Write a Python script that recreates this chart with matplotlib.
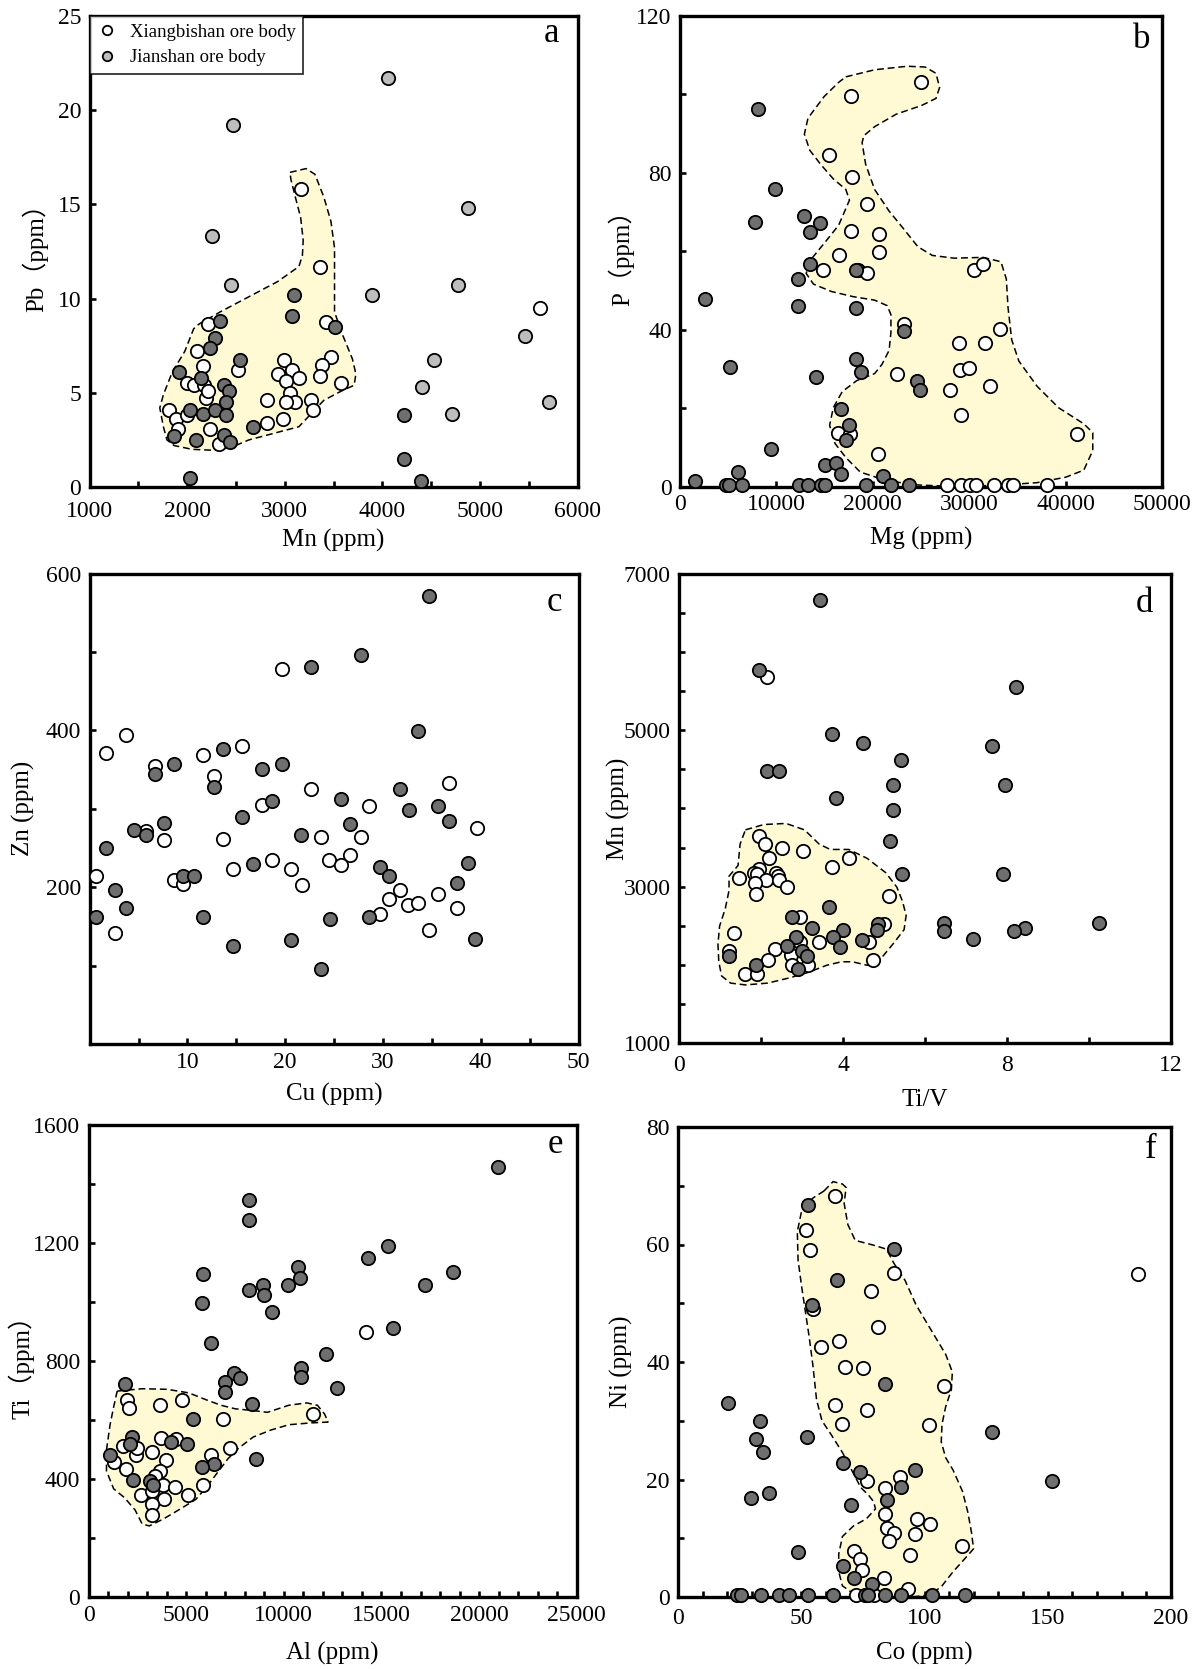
import numpy as np
import matplotlib
matplotlib.use("Agg")
import matplotlib.pyplot as plt
from matplotlib.lines import Line2D

plt.rcParams['font.family'] = ['Liberation Serif', 'Noto Sans CJK SC', 'DejaVu Sans']

WHITE = '#ffffff'
DARK = '#6f6f6f'
LIGHT = '#bdbdbd'
FIELD = '#fffad4'

# ---------------- panel a : Mn vs Pb ----------------
a_white_x = [3162, 3363, 3418, 2213, 2103, 2158, 2523, 3473, 3381, 3363, 2990, 2925, 3071, 3144,
             3016, 3053, 3107, 3016, 3272, 3290, 3571, 2815, 2815, 2980, 1993, 2066, 2176, 2194,
             2213, 1811, 1884, 1902, 1993, 2231, 2322, 5617]
a_white_y = [15.8, 11.7, 8.75, 8.65, 7.2, 6.4, 6.2, 6.9, 6.5, 5.9, 6.75, 6.0, 6.2, 5.8,
             5.6, 5.0, 4.5, 4.5, 4.6, 4.1, 5.5, 4.6, 3.4, 3.6, 5.5, 5.4, 5.4, 4.75,
             5.1, 4.1, 3.6, 3.1, 3.8, 3.1, 2.3, 9.5]
a_dark_x = [3089, 3071, 3509, 2340, 2286, 2231, 2541, 1920, 2140, 2377, 2432, 2395, 2030, 2158,
            2286, 2395, 2669, 1866, 2085, 2377, 2443, 4221, 4221, 4393, 2030]
a_dark_y = [10.2, 9.1, 8.5, 8.8, 7.9, 7.4, 6.75, 6.1, 5.8, 5.4, 5.1, 4.5, 4.1, 3.9,
            4.1, 3.8, 3.2, 2.7, 2.5, 2.75, 2.4, 3.8, 1.5, 0.3, 0.5]
a_light_x = [4057, 2468, 2249, 2450, 4879, 3893, 4769, 5463, 4524, 4404, 4714, 5708]
a_light_y = [21.7, 19.2, 13.3, 10.7, 14.8, 10.2, 10.7, 8.0, 6.75, 5.3, 3.9, 4.5]
a_field_x = [3052, 3217, 3308, 3399, 3472, 3509, 3509, 3509, 3582, 3692, 3728, 3710, 3582, 3399,
             3253, 3144, 2888, 2632, 2450, 2267, 2048, 1866, 1792, 1756, 1719, 1756, 1847, 1975,
             2066, 2121, 2340, 2632, 2925, 3144, 3180, 3188, 3162, 3107, 3063]
a_field_y = [16.7, 16.9, 16.6, 15.4, 14.1, 12.7, 11.4, 9.3, 8.2, 6.8, 6.0, 5.4, 5.1, 4.6,
             3.8, 3.2, 2.85, 2.5, 2.1, 1.95, 2.0, 2.2, 2.5, 3.2, 4.2, 4.9, 6.1, 7.2,
             8.4, 8.65, 9.3, 10.1, 10.9, 11.7, 12.3, 13.1, 14.3, 15.4, 16.3]

# ---------------- panel b : Mg vs P ----------------
b_white_x = [24980, 17690, 15410, 17880, 19450, 17690, 20680, 20680, 16530, 14880, 18510, 19450,
             30480, 31410, 23190, 33170, 28980, 31600, 29090, 29990, 22550, 27970, 32160, 29170,
             41210, 16380, 17650, 20490, 27670, 29170, 30100, 30670, 32540, 34030, 34590, 38070]
b_white_y = [103.1, 99.5, 84.5, 79.0, 72.2, 65.3, 64.4, 59.9, 59.0, 55.3, 55.3, 54.4,
             55.3, 56.7, 41.6, 40.3, 36.6, 36.6, 29.8, 30.3, 28.9, 24.6, 25.7, 18.4,
             13.4, 13.85, 13.4, 8.4, 0.5, 0.5, 0.5, 0.5, 0.5, 0.5, 0.5, 0.5]
b_dark_x = [8040, 9835, 7780, 12900, 14510, 13460, 13460, 12230, 12230, 18250, 2620, 5160,
            14140, 18250, 18770, 23190, 24610, 24870, 16720, 17500, 17200, 9420, 6060, 15030,
            16190, 16750, 21050, 1570, 4800, 5100, 6470, 12340, 13280, 14660, 15070, 19260,
            21880, 23750, 18250]
b_dark_y = [96.3, 75.8, 67.6, 69.0, 67.2, 64.9, 56.7, 53.0, 46.2, 45.7, 48.0, 30.7,
            28.0, 32.5, 29.3, 39.8, 27.1, 24.8, 19.8, 15.9, 12.0, 9.75, 3.8, 5.6,
            6.1, 3.4, 2.9, 1.5, 0.5, 0.5, 0.6, 0.4, 0.4, 0.4, 0.4, 0.4,
            0.4, 0.4, 55.3]
b_field_x = [17200, 20190, 23560, 25430, 26550, 26930, 26550, 25060, 22440, 20190, 19070, 18890,
             19260, 20190, 21690, 23190, 24680, 26180, 28420, 31420, 33290, 33850, 34030, 34410,
             35150, 37030, 39270, 41890, 42820, 42820, 41890, 40020, 37030, 32910, 27680, 23940,
             20940, 18700, 17200, 16080, 15520, 15900, 16830, 18330, 20190, 20940, 21690, 21880,
             21880, 21500, 20190, 17950, 15710, 13840, 13090, 13460, 14960, 16460, 17580, 17200,
             15900, 14590, 13460, 12900, 13280, 14960, 16460]
b_field_y = [104.5, 106.3, 107.2, 107.0, 105.4, 101.8, 99.0, 97.2, 95.0, 91.8, 89.5, 87.7,
             82.2, 75.8, 70.3, 65.8, 61.2, 59.0, 58.3, 58.5, 57.4, 53.0, 45.7, 37.5,
             32.1, 25.7, 20.2, 16.1, 13.85, 9.3, 4.3, 2.5, 1.1, 0.4, 0.2, 0.6,
             2.0, 3.8, 7.5, 11.1, 15.7, 20.2, 24.3, 27.1, 28.9, 31.2, 34.8, 39.4,
             43.9, 46.2, 47.6, 48.5, 49.8, 51.7, 54.4, 57.6, 62.1, 66.7, 73.1, 75.8,
             78.5, 82.2, 85.8, 89.9, 94.0, 99.5, 103.1]

# ---------------- panel c : Cu vs Zn ----------------
c_white_x = [19.7, 3.73, 1.72, 15.6, 11.6, 6.65, 12.7, 22.6, 36.7, 17.6, 28.6, 39.6, 5.73, 7.56,
             13.6, 23.7, 27.7, 18.7, 24.5, 26.6, 25.7, 14.7, 20.6, 0.62, 8.58, 9.57, 21.7, 31.7,
             30.6, 35.6, 32.6, 33.6, 37.6, 29.7, 34.7, 2.63]
c_white_y = [478.4, 394.1, 371.3, 380.4, 369.0, 354.0, 341.7, 325.7, 332.6, 305.2, 303.0, 275.6,
             271.1, 259.7, 262.0, 264.2, 264.2, 234.6, 234.6, 241.5, 227.8, 223.2, 223.2, 214.1,
             209.6, 203.6, 202.7, 195.9, 184.5, 191.3, 177.7, 180.0, 173.1, 166.3, 145.8, 141.2]
c_dark_x = [34.7, 27.7, 22.6, 33.6, 13.6, 8.66, 19.7, 17.6, 6.65, 12.7, 31.7, 18.7, 25.7, 32.65,
            35.6, 36.7, 7.56, 15.6, 26.6, 4.57, 5.73, 21.6, 1.72, 16.7, 38.7, 29.7, 30.6, 9.57,
            10.66, 37.6, 2.63, 3.73, 0.62, 11.6, 24.6, 28.6, 20.6, 39.4, 14.7, 23.7]
c_dark_y = [571.8, 496.6, 480.6, 398.6, 375.9, 357.6, 357.6, 350.8, 344.0, 328.0, 325.7, 309.8,
            312.1, 298.4, 303.0, 284.7, 282.5, 289.3, 280.2, 273.3, 266.5, 266.5, 250.6, 230.1,
            231.0, 225.5, 214.1, 214.1, 214.1, 205.0, 195.9, 173.1, 161.7, 161.7, 159.5, 161.7,
            132.1, 134.4, 125.3, 95.7]

# ---------------- panel d : Ti/V vs Mn ----------------
d_white_x = [2.14, 1.95, 2.09, 2.52, 3.02, 2.19, 4.14, 3.74, 1.96, 1.82, 1.91, 2.36, 2.41, 1.46,
             2.12, 2.45, 1.85, 2.63, 1.87, 5.13, 2.94, 5.01, 1.33, 3.42, 4.64, 2.94, 2.34, 2.72,
             1.23, 2.18, 4.73, 2.75, 3.15, 1.60, 1.91]
d_white_y = [5687, 3644, 3544, 3499, 3453, 3362, 3362, 3248, 3225, 3180, 3157, 3180, 3134, 3111,
             3088, 3088, 3043, 2997, 2906, 2883, 2609, 2518, 2404, 2290, 2290, 2290, 2199, 2131,
             2176, 2062, 2062, 1994, 1994, 1880, 1880]
d_dark_x = [3.44, 1.95, 8.21, 3.74, 4.48, 7.63, 5.42, 2.14, 2.45, 5.22, 7.94, 3.84, 5.22, 5.15,
            5.45, 7.90, 3.66, 2.75, 4.86, 3.24, 4.01, 6.46, 6.46, 10.24, 8.44, 8.17, 7.18, 4.82,
            2.86, 3.76, 4.46, 2.63, 3.92, 2.99, 3.12, 1.23, 1.87, 2.90]
d_dark_y = [6667, 5778, 5550, 4958, 4843, 4798, 4616, 4479, 4479, 4296, 4296, 4137, 3977, 3590,
            3157, 3157, 2746, 2609, 2518, 2473, 2450, 2532, 2427, 2541, 2473, 2427, 2336, 2450,
            2359, 2359, 2313, 2245, 2222, 2176, 2108, 2108, 1994, 1948]
d_field_x = [1.62, 2.07, 2.61, 3.06, 3.42, 3.69, 4.14, 4.59, 5.04, 5.31, 5.45, 5.54, 5.49, 5.22,
             4.86, 4.59, 4.23, 3.96, 3.60, 3.15, 2.70, 2.16, 1.62, 1.26, 1.04, 0.97, 0.95, 0.99,
             1.13, 1.22, 1.22, 1.44, 1.49]
d_field_y = [3727, 3795, 3809, 3727, 3544, 3476, 3476, 3362, 3180, 2997, 2815, 2632, 2450, 2267,
             2039, 1994, 2039, 2039, 1994, 1903, 1834, 1766, 1743, 1766, 1857, 2039, 2267, 2495,
             2723, 2951, 3134, 3271, 3544]

# ---------------- panel e : Al vs Ti ----------------
e_white_x = [14190, 11480, 3660, 4800, 1980, 2050, 6900, 7230, 3720, 4490, 1740, 2420, 3260, 3940,
             6280, 1280, 1920, 3660, 3390, 3790, 4400, 5860, 2660, 3260, 3850, 5070, 3260, 3240,
             2470]
e_white_y = [899, 622, 652, 668, 668, 640, 604, 505, 538, 535, 511, 481, 493, 466,
             481, 457, 433, 427, 409, 379, 373, 381, 345, 361, 331, 345, 316, 277,
             505]
e_dark_x = [20970, 8190, 8190, 15350, 14290, 5860, 18640, 10710, 10840, 10200, 8940, 17250, 8240,
            8970, 5810, 9380, 15600, 6280, 12140, 10900, 10900, 12730, 1870, 7470, 7780, 7000,
            7000, 8390, 5350, 2200, 2110, 4210, 5040, 1100, 6410, 5820, 8550, 2290, 3170, 3300]
e_dark_y = [1456, 1345, 1278, 1191, 1149, 1095, 1101, 1119, 1083, 1059, 1059, 1059, 1041,
            1023, 996, 966, 911, 860, 824, 776, 746, 708, 722, 758, 742, 730,
            694, 653, 604, 541, 517, 526, 517, 481, 451, 439, 469, 397, 394, 380]
e_field_x = [1465, 2747, 4029, 5128, 6044, 6777, 7509, 8425, 9158, 10256, 11172, 11722, 12088,
             12271, 11355, 10256, 9341, 8425, 7692, 7143, 6593, 6044, 5495, 4762, 3846, 3114,
             2747, 2381, 1832, 1282, 916, 916, 1099, 1282]
e_field_y = [698, 706, 704, 692, 668, 650, 638, 632, 626, 650, 658, 650, 620,
             593, 590, 584, 566, 542, 505, 469, 421, 373, 331, 301, 265, 241,
             247, 295, 337, 367, 427, 499, 584, 644]

# ---------------- panel f : Co vs Ni ----------------
f_white_x = [63.7, 52.1, 53.5, 87.6, 78.4, 54.7, 81.2, 58.0, 65.5, 67.7, 75.2, 107.9, 63.7, 76.7,
             66.7, 101.9, 76.7, 89.9, 83.9, 83.9, 96.9, 102.2, 84.6, 87.6, 96.2, 85.4, 115.4, 71.5,
             73.9, 94.1, 74.6, 83.4, 93.3, 186.8, 72.4, 76.4, 79.4]
f_white_y = [68.3, 62.5, 59.1, 55.2, 52.1, 49.1, 46.0, 42.6, 43.6, 39.2, 39.0, 35.9, 32.7, 31.8,
             29.5, 29.3, 19.8, 20.5, 18.6, 14.1, 13.3, 12.4, 11.8, 10.9, 10.7, 9.5, 8.6, 7.8,
             6.5, 7.1, 4.6, 3.2, 1.4, 54.9, 0.3, 0.3, 0.3]
f_dark_x = [52.9, 87.6, 64.7, 54.2, 83.9, 20.2, 33.3, 31.5, 52.4, 34.5, 127.3, 67.1, 73.7, 96.2,
            151.8, 90.6, 37.0, 29.5, 84.6, 70.1, 48.7, 67.1, 71.5, 78.7, 24.0, 25.5, 33.7, 40.9,
            44.9, 52.9, 62.9, 75.7, 76.9, 83.9, 90.6, 102.9, 116.4]
f_dark_y = [66.7, 59.3, 54.0, 49.7, 36.2, 33.0, 30.0, 26.9, 27.2, 24.7, 28.1, 22.8, 21.3, 21.7,
            19.8, 18.7, 17.7, 16.8, 16.5, 15.6, 7.6, 5.2, 3.2, 2.2, 0.3, 0.3, 0.3, 0.3,
            0.3, 0.3, 0.3, 0.3, 0.3, 0.3, 0.3, 0.3, 0.3]
f_field_x = [59.2, 62.9, 66.7, 68.2, 67.4, 68.9, 71.9, 80.1, 84.6, 87.6, 92.1, 96.6, 102.6, 108.6,
             111.3, 110.9, 108.6, 107.1, 106.8, 108.6, 111.6, 115.4, 117.6, 119.1, 119.9, 116.1,
             111.6, 107.1, 102.6, 95.1, 84.6, 75.7, 69.7, 66.7, 65.2, 65.2, 66.7, 71.2, 76.4,
             80.1, 79.4, 77.2, 74.2, 71.2, 66.7, 62.2, 58.4, 56.2, 54.7, 53.2, 51.7, 50.2, 48.7,
             48.4, 50.2, 54.7]
f_field_y = [69.1, 70.7, 70.3, 69.7, 67.0, 63.4, 60.7, 59.8, 59.2, 56.8, 53.9, 49.7, 45.5, 41.3,
             38.3, 35.3, 32.4, 29.4, 26.4, 23.7, 21.6, 18.0, 14.4, 10.9, 8.2, 6.4,
             4.3, 1.9, 0.4, 0.0, 0.0, 0.2, 1.0, 1.9, 4.3, 7.3, 10.3, 12.1, 13.3,
             15.0, 16.2, 17.4, 18.6, 21.0, 24.6, 27.6, 30.0, 33.6, 39.5, 44.3, 48.5, 52.7, 57.4,
             62.2, 65.8, 67.9]

FIG_W, FIG_H = 1200, 1669


def set_ticks(axis, lo, hi, step, label_step, skip_zero=False):
    ticks = np.arange(lo, hi + step / 2, step)
    labels = []
    for t in ticks:
        on = abs((t - lo) / label_step - round((t - lo) / label_step)) < 1e-6
        if skip_zero and t == 0:
            on = False
        labels.append(f'{t:g}' if on else '')
    axis.set_ticks(ticks, labels)


def panel(box, letter, letter_pos, xlab, ylab, xlim, ylim, xt, yt, pts,
          field=None, xpad=6, xlab_off=53, ylab_off=55):
    # box = (left, top, right, bottom) in pixels of the 1200x1669 picture
    l, t, r, b = box
    ax = fig.add_axes([l / FIG_W, 1 - b / FIG_H, (r - l) / FIG_W, (b - t) / FIG_H])
    ax.set_xlim(*xlim)
    ax.set_ylim(*ylim)
    if field is not None:
        ax.fill(field[0], field[1], facecolor=FIELD, edgecolor='black',
                linestyle=(0, (4.5, 2.5)), linewidth=1.1, zorder=1)
    for xs, ys, col in pts:
        ax.scatter(xs, ys, s=92, c=col, edgecolors='black', linewidths=1.3,
                   zorder=3, clip_on=False)
    set_ticks(ax.xaxis, *xt)
    set_ticks(ax.yaxis, *yt)
    ax.tick_params(direction='in', length=4.5, width=1.9, labelsize=17,
                   top=False, right=False)
    ax.tick_params(axis='x', pad=xpad)
    ax.tick_params(axis='y', pad=6)
    for sp in ax.spines.values():
        sp.set_linewidth(2.4)
    ax.set_xlabel(xlab, fontsize=18, va='center')
    ax.set_ylabel(ylab, fontsize=18, va='center')
    ax.xaxis.set_label_coords(0.5, -xlab_off / (b - t))
    ax.yaxis.set_label_coords(-ylab_off / (r - l), 0.5)
    ax.text(letter_pos[0], letter_pos[1], letter, transform=ax.transAxes, fontsize=25,
            ha='center', va='center')
    return ax


fig = plt.figure(figsize=(12, 16.69), dpi=100)

ax_a = panel((89.6, 16, 577.7, 487), 'a', (0.947, 0.962), 'Mn (ppm)', 'Pb（ppm）',
             (1000, 6000), (0, 25), (1000, 6000, 500, 1000), (0, 25, 5, 5),
             [(a_light_x, a_light_y, LIGHT), (a_white_x, a_white_y, WHITE),
              (a_dark_x, a_dark_y, DARK)], (a_field_x, a_field_y),
             xpad=10, xlab_off=53, ylab_off=55)
handles = [Line2D([], [], linestyle='none', marker='o', markersize=6.8,
                  markerfacecolor=WHITE, markeredgecolor='black', markeredgewidth=1.3),
           Line2D([], [], linestyle='none', marker='o', markersize=6.8,
                  markerfacecolor=LIGHT, markeredgecolor='black', markeredgewidth=1.3)]
leg = ax_a.legend(handles, ['Xiangbishan ore body', 'Jianshan ore body'],
                  loc='upper left', borderaxespad=0, fancybox=False, fontsize=13.5,
                  handletextpad=0.65, handlelength=1.1, borderpad=0.4, labelspacing=0.45)
leg.get_frame().set_edgecolor('black')
leg.get_frame().set_linewidth(1.3)

panel((680, 16, 1162, 487), 'b', (0.957, 0.951), 'Mg (ppm)', 'P（ppm）',
      (0, 50000), (0, 120), (0, 50000, 10000, 10000), (0, 120, 20, 40),
      [(b_white_x, b_white_y, WHITE), (b_dark_x, b_dark_y, DARK)], (b_field_x, b_field_y),
      xpad=5.4, xlab_off=51, ylab_off=59)

panel((89.6, 573.6, 578.6, 1044), 'c', (0.951, 0.939), 'Cu (ppm)', 'Zn (ppm)',
      (0, 50), (0, 600), (0, 50, 5, 10, True), (0, 600, 100, 200, True),
      [(c_white_x, c_white_y, WHITE), (c_dark_x, c_dark_y, DARK)],
      xpad=6, xlab_off=50, ylab_off=66)

panel((679, 574, 1171, 1043), 'd', (0.945, 0.937), 'Ti/V', 'Mn (ppm)',
      (0, 12), (1000, 7000), (0, 12, 2, 4), (1000, 7000, 500, 2000),
      [(d_white_x, d_white_y, WHITE), (d_dark_x, d_dark_y, DARK)], (d_field_x, d_field_y),
      xpad=8.3, xlab_off=57, ylab_off=61)

panel((88.6, 1125, 576.7, 1597), 'e', (0.956, 0.959), 'Al (ppm)', 'Ti（ppm）',
      (0, 25000), (0, 1600), (0, 25000, 1000, 5000), (0, 1600, 200, 400),
      [(e_white_x, e_white_y, WHITE), (e_dark_x, e_dark_y, DARK)], (e_field_x, e_field_y),
      xpad=5.4, xlab_off=56, ylab_off=67)

panel((678, 1127, 1171, 1597), 'f', (0.959, 0.953), 'Co (ppm)', 'Ni (ppm)',
      (0, 200), (0, 80), (0, 200, 10, 50), (0, 80, 10, 20),
      [(f_white_x, f_white_y, WHITE), (f_dark_x, f_dark_y, DARK)], (f_field_x, f_field_y),
      xpad=7.6, xlab_off=56, ylab_off=57)

fig.savefig('out.png', dpi=100, facecolor='white')
